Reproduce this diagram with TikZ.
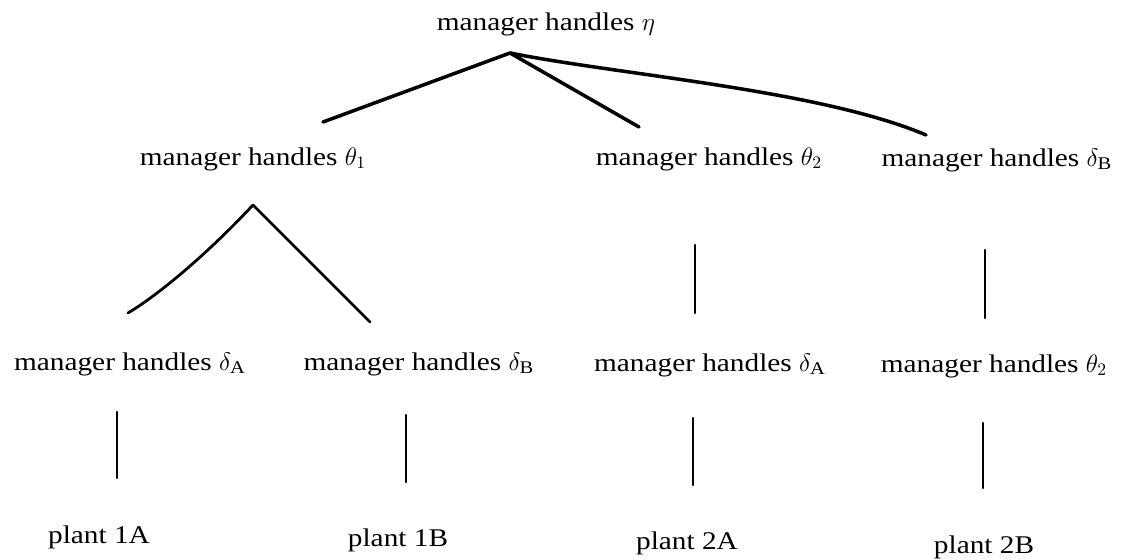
\documentclass[tikz,border=0pt]{standalone}
\usepackage{amsmath}
\usepackage{fontspec}
\setmainfont[FakeStretch=1.15]{Liberation Serif}
\tikzstyle{lbl}=[font=\fontsize{14.5}{16}\selectfont,inner sep=1pt]
\tikzstyle{none}=[inner sep=0pt,minimum size=0pt]
\tikzstyle{br}=[line width=2pt,line cap=round]
\tikzstyle{sbr}=[line width=1.6pt,line cap=round]
\tikzstyle{vr}=[line width=1.2pt,line cap=round]

\begin{document}
\begin{tikzpicture}[x=0.02cm,y=-0.02cm]
		\useasboundingbox (0,0) rectangle (1126,560);
		% labels
		\node [style=lbl] (0) at (546, 24) {manager handles $\eta$};
		\node [style=lbl] (1) at (253, 159) {manager handles $\theta_1$};
		\node [style=lbl] (2) at (709, 159) {manager handles $\theta_2$};
		\node [style=lbl] (3) at (996, 160) {manager handles $\delta_{\mathrm{B}}$};
		\node [style=lbl] (4) at (129, 364) {manager handles $\delta_{\mathrm{A}}$};
		\node [style=lbl] (5) at (418, 364) {manager handles $\delta_{\mathrm{B}}$};
		\node [style=lbl] (6) at (709, 365) {manager handles $\delta_{\mathrm{A}}$};
		\node [style=lbl] (7) at (994, 366) {manager handles $\theta_2$};
		\node [style=lbl] (8) at (99, 537) {plant 1A};
		\node [style=lbl] (9) at (398, 540) {plant 1B};
		\node [style=lbl] (10) at (687, 543) {plant 2A};
		\node [style=lbl] (11) at (984, 547) {plant 2B};
		% branch ends
		\node [style=none] (12) at (510, 53) {};
		\node [style=none] (13) at (323, 122) {};
		\node [style=none] (14) at (639, 127) {};
		\node [style=none] (15) at (926, 135) {};
		\node [style=none] (16) at (253, 205) {};
		\node [style=none] (17) at (128, 313) {};
		\node [style=none] (18) at (370, 322) {};
		\node [style=none] (19) at (695, 245) {};
		\node [style=none] (20) at (695, 313) {};
		\node [style=none] (21) at (985, 250) {};
		\node [style=none] (22) at (985, 318) {};
		\node [style=none] (23) at (117, 412) {};
		\node [style=none] (24) at (117, 478) {};
		\node [style=none] (25) at (406, 415) {};
		\node [style=none] (26) at (406, 482) {};
		\node [style=none] (27) at (693, 418) {};
		\node [style=none] (28) at (693, 485) {};
		\node [style=none] (29) at (983, 423) {};
		\node [style=none] (30) at (983, 488) {};
		\draw [style=br] (12.center) to (13.center);
		\draw [style=br] (12.center) to (14.center);
		\draw [style=br] (12.center) .. controls (620, 75) and (820, 90) .. (15.center);
		\draw [style=sbr] (16.center) .. controls (213, 248) and (163, 292) .. (17.center);
		\draw [style=sbr] (16.center) to (18.center);
		\draw [style=vr] (19.center) to (20.center);
		\draw [style=vr] (21.center) to (22.center);
		\draw [style=vr] (23.center) to (24.center);
		\draw [style=vr] (25.center) to (26.center);
		\draw [style=vr] (27.center) to (28.center);
		\draw [style=vr] (29.center) to (30.center);
\end{tikzpicture}
\end{document}
